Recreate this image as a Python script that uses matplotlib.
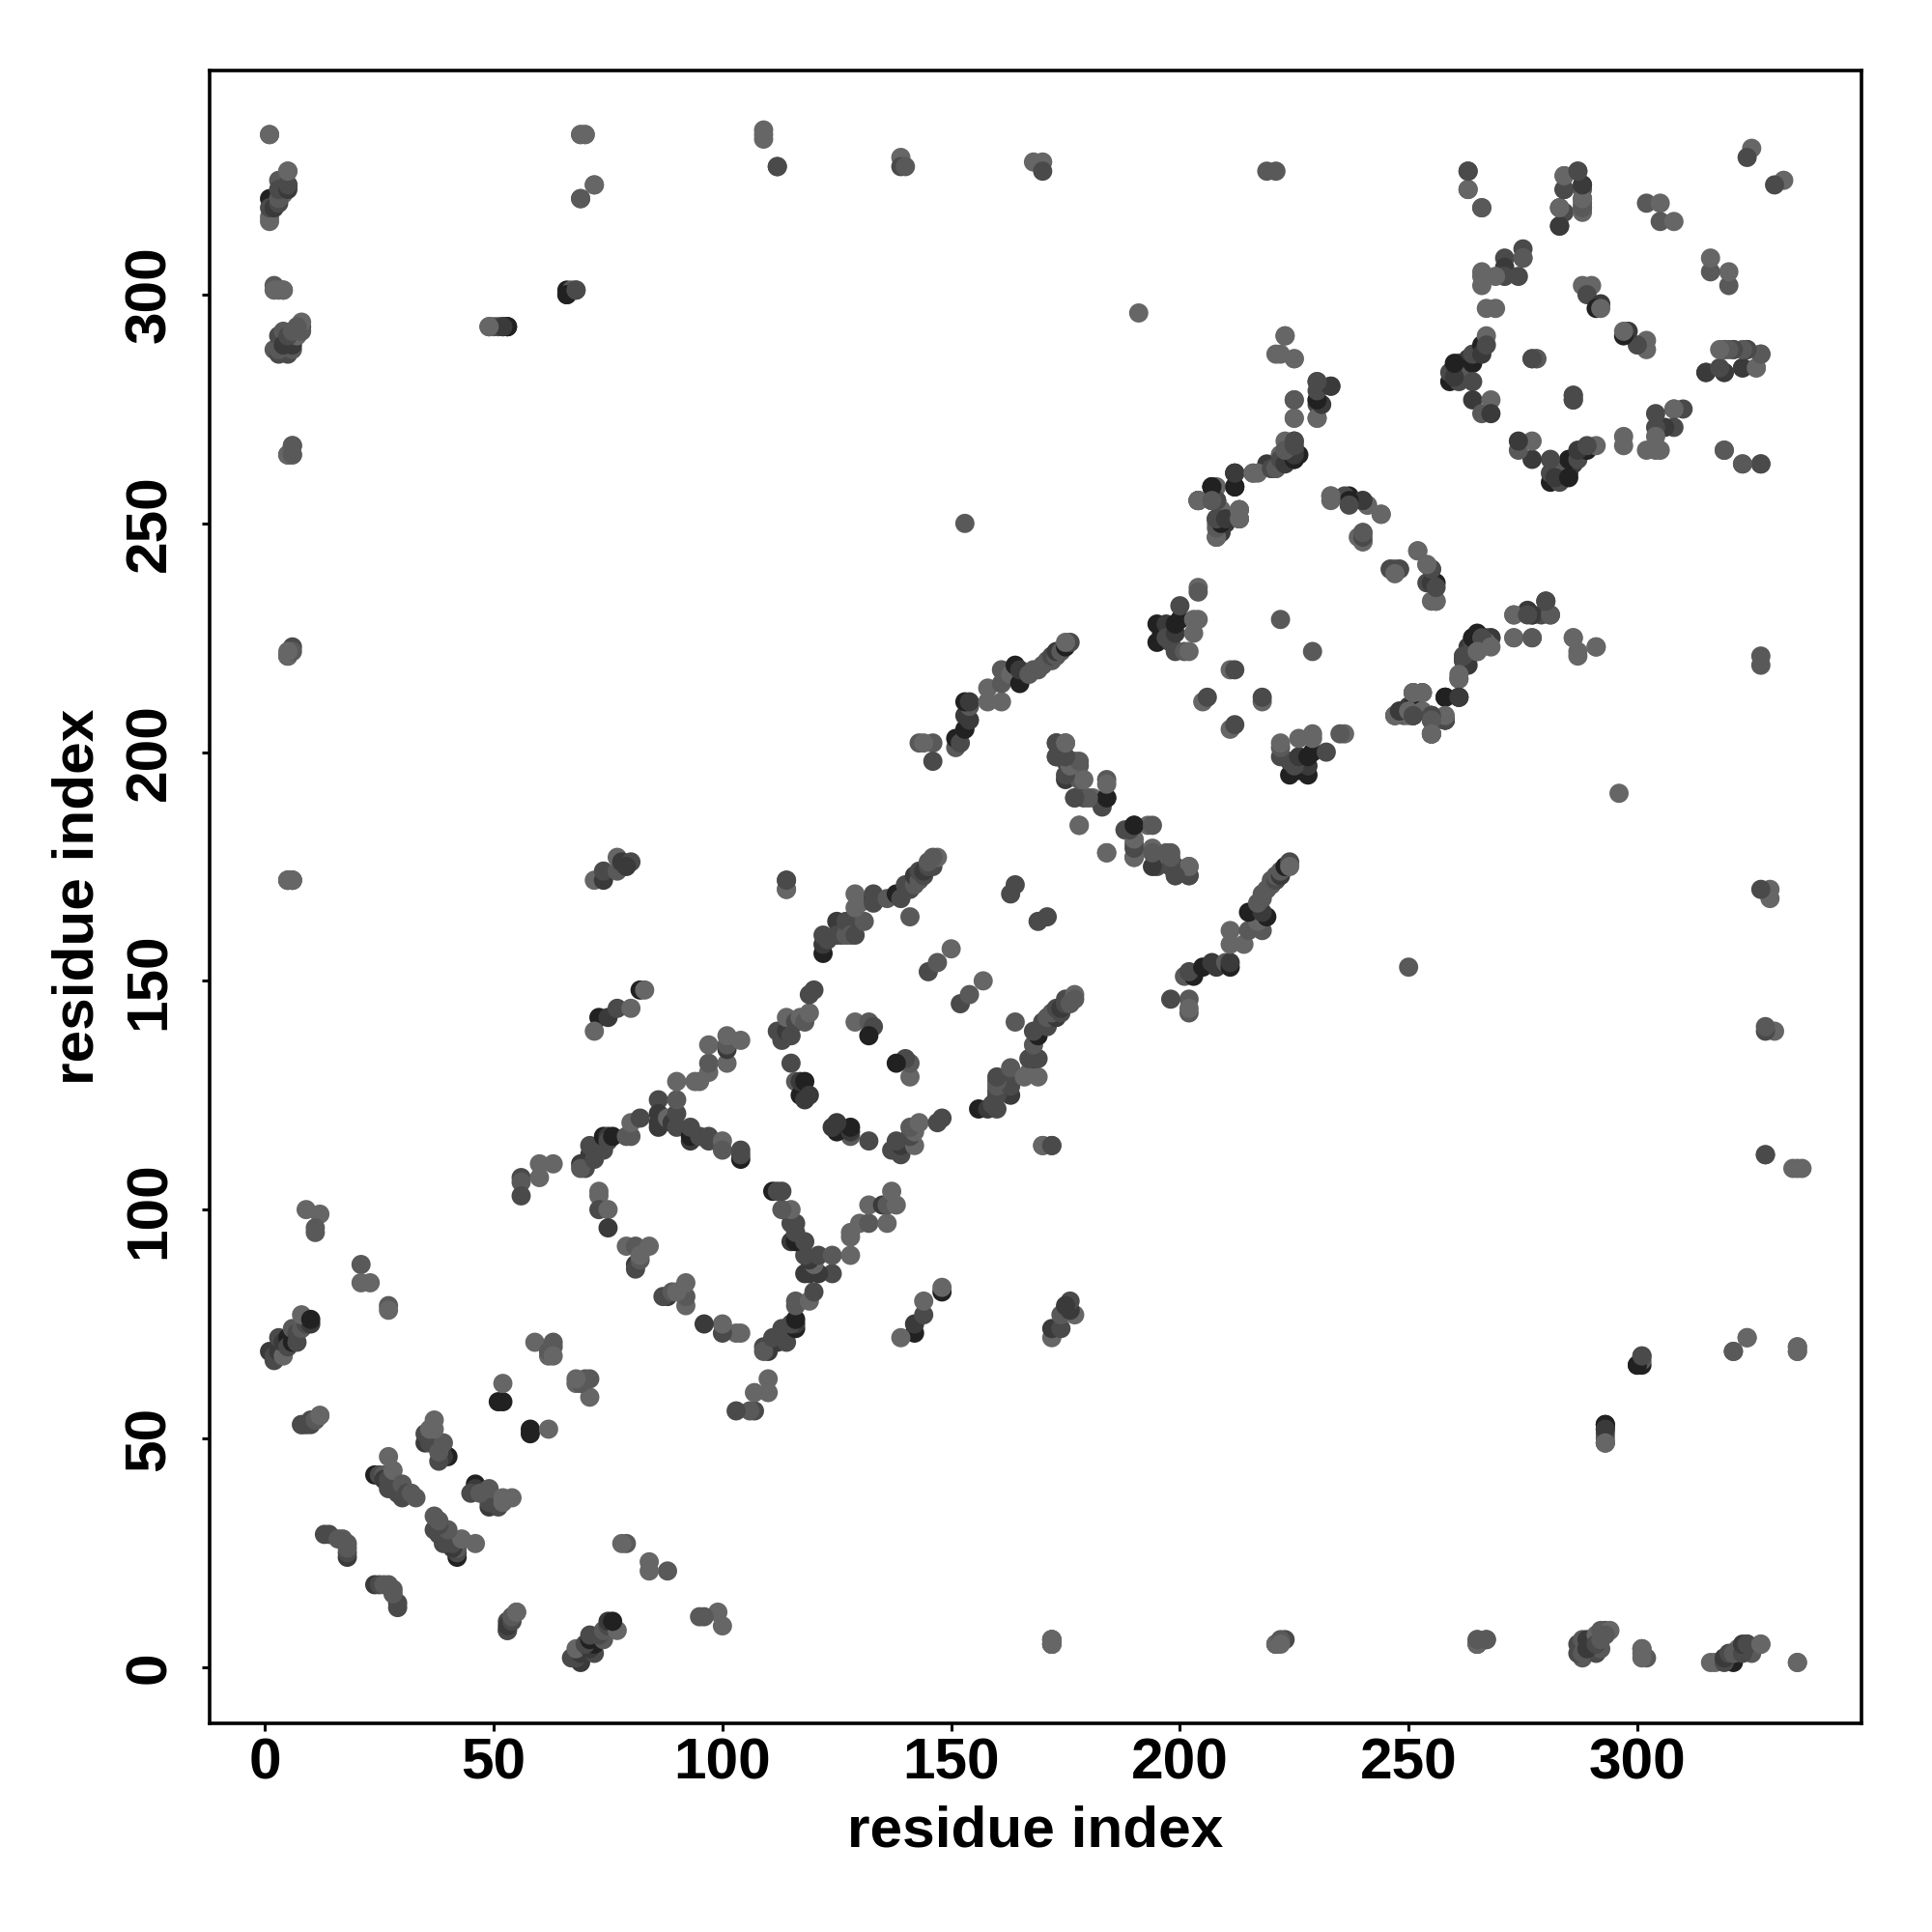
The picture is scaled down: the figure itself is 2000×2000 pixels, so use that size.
import numpy as np
import matplotlib
matplotlib.use('Agg')
import matplotlib.pyplot as plt

# contacts, upper left half only (i, j, shade 1 light .. 5 dark)
# the map is symmetric so the other half comes from swapping i and j
near_n = [(13,29,3),(14,29,3),(16,28,2),(17,28,2),(18,24,4),(18,25,3),(18,26,2),(18,27,2),
          (9,100,1),(12,99,1),(11,95,2),(11,96,2),(21,88,2),(21,84,1),(23,84,1),(27,79,2),(27,78,1)]
sheet_24 = [(24,42,5),(25,42,3),(26,42,2),(26,41,4),(27,41,3),(27,39,3),(28,40,3),(29,38,3),(30,37,3),
            (28,43,1),(27,46,1),(30,40,2),(31,38,3),(32,38,2),(33,37,2)]
sheet_35 = [(40,46,5),(39,46,4),(38,45,3),(35,49,4),(35,51,3),(36,50,3),(36,49,3),(39,49,2),(38,47,2),
            (37,52,1),(37,54,1),(36,52,1)]
helix_1 = [(2,67,3),(1,69,4),(2,68,3),(3,69,4),(4,68,1),(3,72,3),(4,71,4),(5,72,5),(5,70,3),(6,71,5),
           (7,71,3),(6,74,2),(7,73,3),(8,74,2),(9,75,3),(10,75,4),(8,77,1),(10,76,5),
           (8,53,3),(9,53,4),(10,54,3),(11,54,2),(12,55,1),(53,8,3),(53,10,3),(54,11,2),(55,12,1)]
short_range = [(51,58,5),(52,58,5),(52,62,1),(59,71,1),(63,71,2),(63,70,2),(62,68,1),(62,69,2),(63,68,1),
               (56,107,3),(56,106,2),(56,103,3),(60,110,1),(60,107,1),(63,110,1),
               (73,104,1),(73,103,1),(73,100,3),(75,100,1),(75,96,4),(79,92,1),(81,92,2),(84,92,1),
               (81,88,4),(81,87,3),(82,89,2),(82,90,1)]
sheet_69 = [(69,110,4),(70,109,3),(71,112,4),(69,109,2),(72,113,5),(72,111,3),(73,114,4),(74,113,3),(71,114,3),
            (74,116,5),(75,116,4),(75,115,3),(76,116,5),(79,116,2),(80,116,2),(80,119,1),(82,120,3),
            (86,124,3),(86,121,4),(86,119,4),(86,118,4),(88,120,1),(89,119,4),(90,118,3),(90,121,3),(90,124,2),
            (90,128,1),(93,115,4),(93,116,5),(93,118,3),(94,128,1),(95,128,1),(95,116,3),(97,116,3),(97,115,3),
            (100,115,1),(100,113,2),(104,113,3),(104,111,5),(104,112,3),
            (97,130,1),(97,132,2),(97,136,1),(101,132,1),(101,135,4),(101,136,2),(101,138,1),(104,137,1)]
strand_72 = [(73,142,5),(75,142,4),(72,139,1),(77,144,3),(80,144,1),(82,148,5),(83,148,1),
             (72,172,1),(74,172,4),(74,174,3),(77,174,2),(77,177,1),(78,176,4),(80,176,3),(79,175,4),
             (114,172,3),(114,170,1),(114,170,1)]
barrel_110 = [(112,139,3),(113,137,3),(114,139,4),(115,138,3),(114,142,1),(116,141,3),(117,142,1),(118,141,2),
              (119,143,1),(119,147,3),(120,148,3),(115,132,3),(116,128,2),(117,125,5),(118,125,5),(118,124,4),
              (117,128,4),(118,128,5),(119,125,4),(122,156,5),(122,158,4),(122,160,3),(123,159,3),(125,163,4),
              (125,160,3),(126,160,3),(127,160,2),(127,163,3),(128,160,2),(129,160,3),(130,163,3),(131,163,2),
              (129,166,1),(129,169,1),(130,167,1),(133,168,4),(133,167,3),(133,169,3),
              (136,168,2),(138,169,5),(139,168,3),(140,171,3),(141,170,3),(142,171,2),(142,173,4),(143,172,2),
              (143,174,3),(144,173,3),(144,174,4),(145,175,3),(146,175,3),(145,176,2),(147,177,1),(146,177,2),
              (141,164,2),(163,169,3),(164,171,3),(129,141,1),(132,141,2),(133,140,3),
              (132,138,5),(145,152,3),(147,154,2),(150,157,1),(114,172,3)]
helix_150 = [(143,202,2),(146,202,2),(146,198,3),(144,202,1),(151,201,2),(151,203,5),(152,202,3),(153,205,5),
             (153,208,4),(154,207,4),(154,210,2),(153,211,5),(154,211,4),(158,211,1),(158,214,1),(161,211,1),
             (161,215,2),(161,218,2),(163,217,1),(164,219,5),(165,215,5),(165,218,4),(167,217,2),(168,218,2),
             (169,218,2),(170,219,2),(171,220,2),(172,220,2),(172,221,3),(173,221,2),(173,222,4),(174,222,2),
             (175,223,5),(176,224,3),(175,224,1),(153,250,2)]
turn_175 = [(173,202,3),(175,202,1),(173,199,3),(175,198,3),(177,198,2),(178,197,2),(175,194,4),(178,194,2),
            (177,190,1),(179,190,3),(181,190,1),(183,189,3),(184,190,5),(184,194,2),(178,184,1),(188,183,3),
            (184,178,1),(190,184,5),(193,184,1),(190,180,2),(190,177,3),(194,179,1),(195,175,3),(197,176,1),
            (198,178,2),(199,175,3),(199,173,3),(202,173,3),(202,175,1)]
domain_195 = [(195,228,5),(195,224,5),(196,226,5),(197,228,4),(197,225,3),(198,224,3),(199,222,3),(199,226,4),
              (199,228,5),(200,229,5),(200,232,3),(201,222,2),(203,229,1),(203,226,1),(202,222,1),(204,229,1),
              (204,236,1),(205,211,1),(206,212,3),
              (211,218,1),(212,218,3),(222,229,2),(204,255,1),(207,258,4),(208,255,2),(208,250,1),(208,247,2),
              (209,251,5),(210,250,4),(212,261,4),(212,258,3),(213,253,1),(213,251,1),(204,235,2),
              (216,261,1),(220,262,3),(222,265,2),(224,264,3),(225,268,4),(225,264,5),(224,267,1),(226,265,5),
              (225,266,3),(219,263,4),(221,262,3),(222,265,1),(223,268,1),(217,261,1),(225,273,1),(225,277,2),
              (230,273,1),(230,277,4),(230,276,3),(230,281,2),(233,280,3),(221,287,1),(223,291,1),(225,286,1),
              (219,327,2),(221,327,2)]
domain_205 = [(204,255,2),(208,247,1),(208,251,3),(209,248,4),(210,251,5),(209,250,1),(209,253,1),
              (213,251,1),(213,253,1),(212,258,5),(207,258,3),(207,255,4),(212,261,4),(208,255,2),(204,255,1),
              (233,256,1),(237,256,5),(237,255,4),(236,256,3),(240,255,3),(241,254,1),(244,252,1),(240,248,3),
              (240,246,3),(239,247,1),(252,244,1),(254,241,1),(255,240,4),(255,237,5),(254,237,3),(256,233,1),
              (255,233,1),(246,240,1),(247,240,3),(248,240,2),(204,255,1),(207,258,3),(208,255,1),(208,258,1),
              (208,255,3),(207,255,2),(204,255,1),(208,251,3),(251,208,1)]
beta_255 = [(247,208,1),(249,208,2),(250,209,5),(251,208,3),(251,210,4),(251,213,1),(253,213,1),(255,208,3),
            (258,212,5),(261,212,4),(258,207,5),(255,204,1),(255,207,2),(261,216,1),(262,220,3),(262,221,2),
            (264,222,3),(263,223,4),(264,225,5),(265,225,4),(266,223,2),(267,225,3),(268,225,3),(273,225,1),
            (277,225,2),(273,230,1),(276,231,4),(277,230,5),(279,230,3),(280,233,4),(281,230,3),(286,225,1),
            (287,222,1),(291,223,1)]
domain_260 = [(263,327,3),(263,323,2),(266,319,2),(283,319,4),(283,315,4),(284,318,3),(284,323,4),(284,326,1),
              (287,327,2),(288,324,3),(288,323,2),(288,321,3),(288,320,2),(288,319,2),(288,318,1),(302,320,2),
              (305,320,1),(305,316,2),(308,316,1),
              (325,332,1),(324,330,3),(275,310,3),(275,308,1),(271,308,3),(271,306,4),(271,304,3),(274,304,3),
              (266,305,1),(266,302,1),(269,304,1),(267,297,1),(269,297,1),(288,302,1),(290,302,1),(289,300,3),
              (292,298,4),(291,297,5),(292,297,1),(259,281,5),(259,283,3),(261,281,3),(261,285,4),(262,284,2),
              (263,286,4),(264,285,5),(264,287,3),(266,289,5),(267,291,1),(264,281,3),(264,277,4),(266,274,2),
              (268,277,1),(268,274,4),(277,286,3),(278,286,3),(286,278,2),(286,277,3),(260,282,4),(260,285,5),
              (266,287,4),(267,289,3),(315,283,4),(308,275,2),(266,304,1),(319,283,1),(319,288,2),(321,288,1),
              (323,284,3),(324,288,4),(326,284,1),(327,287,3),(319,266,2),(323,263,1),(327,263,3)]
long_range = [(1,335,1),(109,336,1),(109,334,1),(69,335,1),(70,335,1),(112,328,3),(139,330,1),(139,328,3),
              (140,328,2),(168,329,1),(170,329,1),(170,327,3),(72,324,1),(69,321,2),(5,327,1),(3,325,2),
              (5,324,5),(1,321,5),(2,321,5),(3,321,4),(1,317,1),(2,319,2),(4,322,1),(2,302,2),(3,301,1),(4,301,2),
              (2,288,2),(3,287,3),(3,291,3),(4,292,2),(5,290,3),(5,287,3),(6,288,2),(6,289,4),(7,291,1),(8,293,3),
              (8,292,2),(8,294,1),(6,267,2),(5,265,2),(6,265,2),(5,221,1),(6,223,3),(5,172,1),(6,172,1),
              (49,293,1),(50,293,2),(52,293,5),(53,293,4),(66,301,5),(66,300,5),(67,301,2),(68,301,3),(191,296,1),
              (172,6,1),(172,5,1),(5,172,1),(49,293,1),(51,293,3),(53,293,5)]
far_corners = [(5,221,1),(5,265,2),(3,288,2),(4,289,4),(5,291,3),(6,292,2),(7,293,2),(2,301,1),(4,301,1),
               (1,316,1),(1,319,3),(2,319,4),(3,320,3),(3,321,2),(3,323,3),(5,323,4),(5,324,3),(5,327,1),
               (1,335,1),(5,221,1),(53,293,5),(52,293,4),(49,293,1),(66,300,5),(68,301,3),(69,321,2),(72,324,1),
               (69,335,1),(70,335,1),(109,335,1),(112,328,3),(5,265,1),(6,265,2),(6,267,2),(6,222,2),(5,172,1),
               (6,172,1),(6,172,1),(5,222,1)]
tick_values = [0, 50, 100, 150, 200, 250, 300]
shade_grey = [0, .40, .35, .29, .23, .13]

regions = [near_n, sheet_24, sheet_35, helix_1, short_range, sheet_69, strand_72, barrel_110, helix_150,
           turn_175, domain_195, domain_205, beta_255, domain_260, long_range, far_corners]
tab = np.array([c for r in regions for c in r])
i, j, s = tab[:,0], tab[:,1], tab[:,2]
grey = np.array(shade_grey)[s]

fig = plt.figure(figsize=(20,20), dpi=100)
ax = fig.add_axes([217/2000., 1-1783.5/2000., 1710/2000., 1710.5/2000.])
ax.scatter(np.r_[i,j], np.r_[j,i], c=np.r_[grey,grey], cmap='gray', vmin=0, vmax=1, s=205, linewidths=0)
ax.set_xlim(-12.1, 349.0)
ax.set_ylim(-12.2, 349.0)
ax.set_xticks(tick_values)
ax.set_yticks(tick_values)
for sp in ax.spines.values():
    sp.set_linewidth(2.6)
font = dict(family='Liberation Sans', weight='bold', size=43.5)
ax.tick_params(axis='x', length=6, width=2.2, pad=4.5)
ax.tick_params(axis='y', length=6, width=2.2, pad=18.5)
for t in ax.get_xticklabels():
    t.set(**font)
for t in ax.get_yticklabels():
    t.set(rotation=90, va='center', **font)
ax.set_xlabel('residue index', labelpad=11, **font)
ax.set_ylabel('residue index', labelpad=14, **font)
fig.savefig('out.png', dpi=100, facecolor='white')
